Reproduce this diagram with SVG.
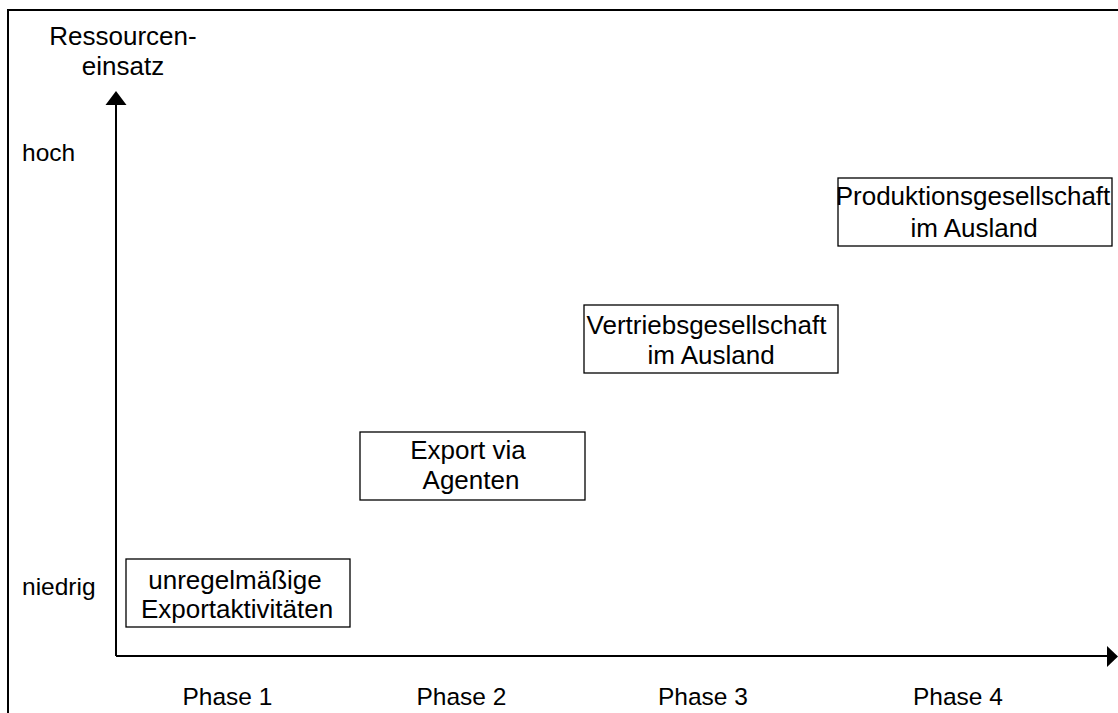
<svg xmlns="http://www.w3.org/2000/svg" width="1118" height="713" viewBox="0 0 1118 713">
<style>
text{font-family:"Liberation Sans",Arial,sans-serif;font-size:24.5px;fill:#000}
.c{text-anchor:middle}
.b{font-size:26px}
.box{fill:#fff;stroke:#000;stroke-width:1.3}
.ax{stroke:#000;stroke-width:2;fill:none}
</style>
<rect width="1118" height="713" fill="#fff"/>
<path class="ax" d="M8,725 V10 H1130"/>
<g id="connectors">
<path d="M116,656 V104" class="ax"/>
<path d="M116,656 H1107" class="ax"/>
<path d="M105.5,105 L116,91 L126.5,105 Z" fill="#000"/>
<path d="M1107,646 L1118,656.5 L1107,667 Z" fill="#000"/>
</g>
<g id="labels">
<text class="c b" x="123" y="45">Ressourcen-</text>
<text class="c b" x="123" y="75">einsatz</text>
<text x="22" y="160.5">hoch</text>
<text x="22" y="595">niedrig</text>
<text x="182.5" y="705">Phase 1</text>
<text x="416.5" y="705">Phase 2</text>
<text x="658" y="705">Phase 3</text>
<text x="913" y="705">Phase 4</text>
</g>
<g id="n1">
<rect class="box" x="126" y="559" width="224" height="68"/>
<text class="c b" x="235" y="589">unregelmäßige</text>
<text class="c b" x="237" y="618">Exportaktivitäten</text>
</g>
<g id="n2">
<rect class="box" x="360" y="432" width="225" height="68"/>
<text class="c b" x="468" y="459">Export via</text>
<text class="c b" x="471" y="489">Agenten</text>
</g>
<g id="n3">
<rect class="box" x="584" y="305" width="254" height="68"/>
<text class="c b" x="706.5" y="334">Vertriebsgesellschaft</text>
<text class="c b" x="711" y="364">im Ausland</text>
</g>
<g id="n4">
<rect class="box" x="838" y="178" width="274" height="68"/>
<text class="c b" x="973" y="205">Produktionsgesellschaft</text>
<text class="c b" x="974" y="237">im Ausland</text>
</g>
</svg>
